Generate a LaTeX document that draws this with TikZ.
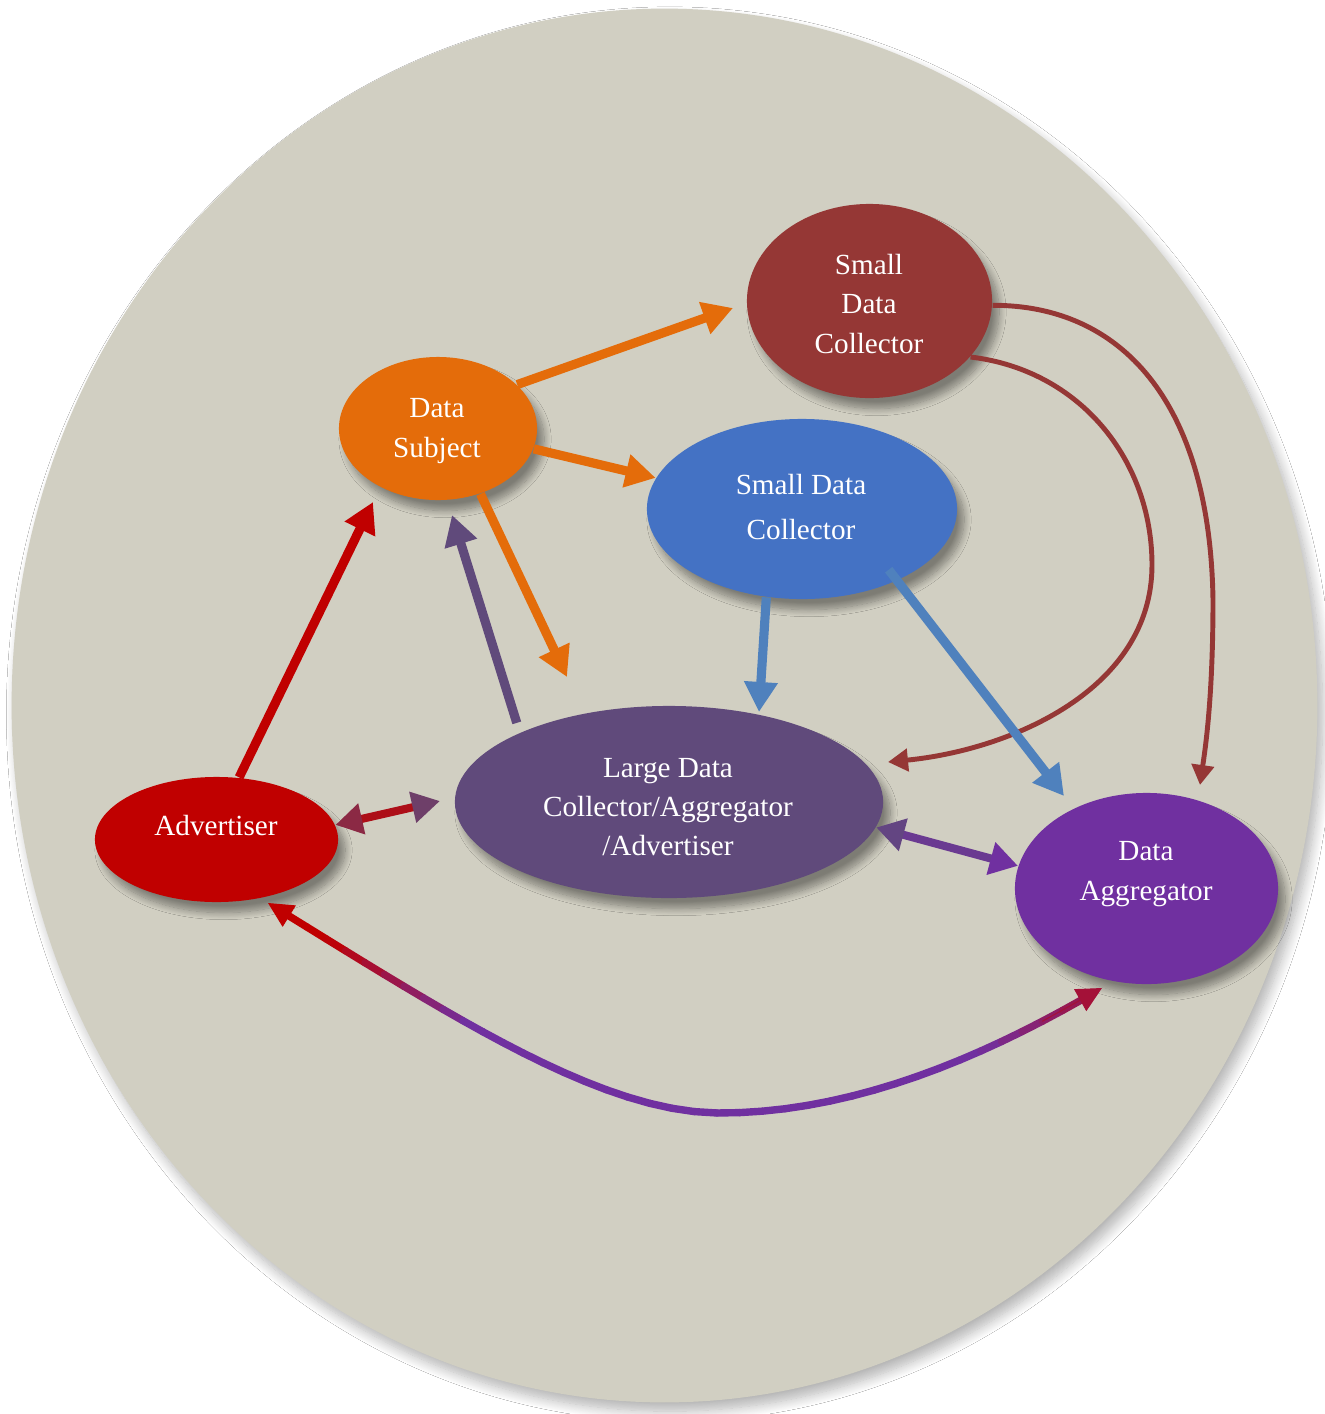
\documentclass[tikz,border=0pt]{standalone}
\usepackage{fontspec}
\setmainfont{Liberation Serif}
\usetikzlibrary{arrows.meta,shapes.geometric,shadows.blur,decorations.markings}

\definecolor{plate}{HTML}{D1CFC2}
\definecolor{dsorange}{HTML}{E46C0A}
\definecolor{brick}{HTML}{953735}
\definecolor{sdblue}{HTML}{4472C4}
\definecolor{flowblue}{HTML}{4F81BD}
\definecolor{ldcviolet}{HTML}{604A7B}
\definecolor{advred}{HTML}{C00000}
\definecolor{aggpurple}{HTML}{7030A0}

\begin{document}
\begin{tikzpicture}[x=0.01cm, y=-0.01cm,
  blob/.style={ellipse, inner sep=0pt, draw=none, fill=#1,
    blur shadow={shadow xshift=2pt, shadow yshift=-3pt,
                 shadow blur radius=2pt, shadow blur steps=12, shadow opacity=40}},
  lbl/.style={text=white, align=center, inner sep=0pt,
              font=\fontsize{8.3}{11.2}\selectfont},
  bigflow/.style={line width=2.6pt, -{Triangle[length=0.30cm, width=0.32cm]}},
  thinflow/.style={line width=1.4pt, -{Triangle[length=0.20cm, width=0.22cm]}},
  headonly/.style={line width=0.3pt, -{Triangle[length=0.25cm, width=0.25cm]}}
]

% page and backdrop plate
\useasboundingbox (0,0) rectangle (1325,1414);
\fill[white] (0,0) rectangle (1325,1414);
\fill[plate, blur shadow={shadow xshift=1.5pt, shadow yshift=-2.5pt,
      shadow blur radius=3pt, shadow blur steps=14, shadow opacity=30}]
  (664.5,705.5) ellipse [x radius=6.525cm, y radius=6.965cm];

% actors
\node[blob=dsorange,  minimum width=1.98cm, minimum height=1.43cm] (ds)   at (438,428.5) {};
\node[blob=brick,     minimum width=2.45cm, minimum height=1.94cm] (sdcr) at (869.5,301) {};
\node[blob=sdblue,    minimum width=3.10cm, minimum height=1.80cm] (sdcb) at (802,509) {};
\node[blob=ldcviolet, minimum width=4.28cm, minimum height=1.92cm] (ldc)  at (669,802) {};
\node[blob=advred,    minimum width=2.43cm, minimum height=1.25cm] (adv)  at (216.5,839.5) {};
\node[blob=aggpurple, minimum width=2.63cm, minimum height=1.91cm] (da)   at (1146.5,888.5) {};

% arrow tip points
\coordinate (tA) at (733,308);
\coordinate (tB) at (567,677);
\coordinate (tC) at (452,515);
\coordinate (tD) at (373,502);
\coordinate (tE) at (759,712);
\coordinate (tF) at (1064,796);
\coordinate (tG) at (1200,785);
\coordinate (tH) at (888,762);
\coordinate (tI) at (440,801);
\coordinate (gL) at (268,903);
\coordinate (gB) at (720,1113);
\coordinate (gR) at (1102,988);

% curved flows out of the upper small collector
\draw[thinflow, brick] (sdcr.-2) .. controls (1120,305) and (1210,400) .. (1213,600)
                                  .. controls (1213,700) and (1205,750) .. (tG);
\draw[thinflow, brick] (sdcr.-29) .. controls (1080,370) and (1152,460) .. (1152,565)
                                   .. controls (1152,690) and (1010,750) .. (tH);

% straight flows
\draw[bigflow, dsorange] (ds.29) -- (tA);
\draw[bigflow, dsorange] (ds.-12) -- (sdcb.168);
\draw[bigflow, dsorange] (ds.-57) -- (tB);
\draw[bigflow, ldcviolet, shorten <=0.1cm] (ldc.155) -- (tC);
\draw[bigflow, advred] (adv.70) -- (tD);
\draw[bigflow, flowblue] (sdcb.-112) -- (tE);
\draw[bigflow, flowblue, shorten <=-0.14cm] (sdcb.-37) -- (tF);

% two-way exchanges
\draw[line width=2.3pt, advred!80!ldcviolet,
      {Triangle[length=0.27cm, width=0.30cm, color=advred!45!ldcviolet]}-{Triangle[length=0.28cm, width=0.30cm, color=ldcviolet!85!advred]}]
  (adv.7) -- (tI);
\draw[line width=2.3pt, ldcviolet!40!aggpurple,
      {Triangle[length=0.28cm, width=0.32cm, color=ldcviolet!80!aggpurple]}-{Triangle[length=0.28cm, width=0.32cm, color=aggpurple]}]
  (ldc.-7) -- (da.170);

% long exchange along the bottom, red at both ends and purple in between
\path[decoration={markings, mark=between positions 0 and 1 step 0.025 with
        {\coordinate (g\pgfkeysvalueof{/pgf/decoration/mark info/sequence number});}},
      decorate]
  (gL) .. controls (450,1015) and (600,1113) .. (gB)
       .. controls (850,1113) and (980,1060) .. (gR);
\foreach \i in {2,...,39}{
  \pgfmathtruncatemacro{\j}{\i+1}
  \pgfmathsetmacro{\s}{(\i-0.5)/40}
  \pgfmathtruncatemacro{\f}{max(0,min(100,(0.26-\s)/0.18*100)) + max(0,(\s-0.85)/0.15*65)}
  \draw[line width=2.1pt, line cap=round, color=advred!\f!aggpurple] (g\i) -- (g\j);
}
\draw[headonly, advred] (g4) -- (gL);
\draw[headonly, advred!65!aggpurple] (g38) -- (gR);

% labels
\node[lbl] (dsT)   at (437,431)  {Data\\Subject};
\node[lbl] (sdcrT) at (869,304)  {Small\\Data\\Collector};
\node[lbl, font=\fontsize{8.3}{13}\selectfont] (sdcbT) at (801,507) {Small Data\\Collector};
\node[lbl] (ldcT)  at (668,807)  {Large Data\\Collector/Aggregator\\/Advertiser};
\node[lbl] (advT)  at (216,826)  {Advertiser};
\node[lbl] (daT)   at (1146,874) {Data\\Aggregator};

\end{tikzpicture}
\end{document}
